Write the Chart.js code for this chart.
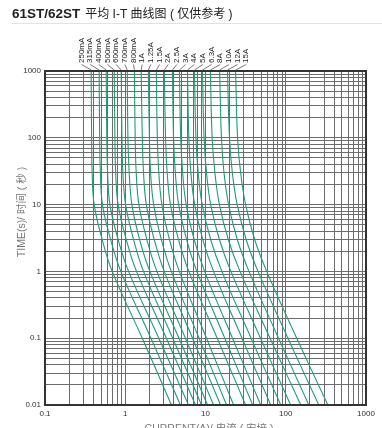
<!DOCTYPE html>
<html><head><meta charset="utf-8">
<script src="https://cdn.jsdelivr.net/npm/chart.js@4/dist/chart.umd.min.js"></script>
<style>html,body{margin:0;padding:0;background:#fff;width:382px;height:428px;overflow:hidden}canvas{display:block}</style>
</head><body>
<canvas id="c" width="382" height="428"></canvas>
<script>
// ---- data ----
const times = [1000, 100, 30, 10, 3, 1, 0.1, 0.01];           // seconds
const ratings = ['250mA','315mA','400mA','500mA','600mA','700mA','800mA','1A','1.25A','1.5A',
                 '2A','2.5A','3A','4A','5A','6.3A','8A','10A','12A','15A'];
// current (A) at each time above
const i250mA = [0.376, 0.381, 0.387, 0.410, 0.516, 0.688, 1.63, 3.76];
const i315mA = [0.473, 0.480, 0.490, 0.520, 0.657, 0.881, 2.09, 4.87];
const i400mA = [0.579, 0.589, 0.603, 0.644, 0.815, 1.10, 2.62, 6.13];
const i500mA = [0.729, 0.743, 0.760, 0.815, 1.03, 1.38, 3.25, 7.50];
const i600mA = [0.891, 0.910, 0.935, 1.01, 1.27, 1.69, 3.91, 8.91];
const i700mA = [1.06, 1.08, 1.12, 1.21, 1.51, 2.03, 4.67, 10.6];
const i800mA = [1.30, 1.33, 1.37, 1.48, 1.86, 2.48, 5.62, 12.6];
const i1A    = [1.58, 1.63, 1.69, 1.83, 2.30, 3.06, 6.90, 15.4];
const i1_25A = [1.94, 2.00, 2.07, 2.26, 2.82, 3.75, 8.32, 18.3];
const i1_5A  = [2.44, 2.51, 2.62, 2.86, 3.56, 4.72, 10.3, 22.4];
const i2A    = [3.07, 3.18, 3.33, 3.66, 4.61, 6.20, 14.0, 31.6];
const i2_5A  = [3.87, 4.00, 4.21, 4.63, 5.82, 7.81, 17.4, 38.7];
const i3A    = [4.73, 4.91, 5.19, 5.74, 7.23, 9.75, 21.7, 48.7];
const i4A    = [5.96, 6.20, 6.57, 7.33, 9.25, 12.6, 28.5, 64.9];
const i5A    = [7.29, 7.60, 8.11, 9.10, 11.6, 16.0, 37.0, 86.6];
const i6_3A  = [9.17, 9.60, 10.3, 11.6, 14.9, 20.7, 48.5, 115];
const i8A    = [11.5, 12.1, 13.1, 14.9, 19.2, 26.9, 63.7, 154];
const i10A   = [15.0, 15.8, 17.0, 19.4, 24.9, 34.8, 81.3, 194];
const i12A   = [18.8, 19.9, 21.6, 24.8, 32.1, 45.1, 106.5, 258];
const i15A   = [23.7, 25.1, 27.4, 31.6, 41.0, 57.9, 137, 335];
const seriesCurrents = [i250mA,i315mA,i400mA,i500mA,i600mA,i700mA,i800mA,i1A,i1_25A,i1_5A,
                        i2A,i2_5A,i3A,i4A,i5A,i6_3A,i8A,i10A,i12A,i15A];
const xTickLabels = ['0.1','1','10','100','1000'];
const yTickLabels = ['0.01','0.1','1','10','100','1000'];
const titleBold = '61ST/62ST';
const titleRest = '平均 I-T 曲线图 ( 仅供参考 )';
const xTitle = 'CURRENT(A)/ 电流 ( 安培 )';
const yTitle = 'TIME(s)/ 时间 ( 秒 )';

// ---- chart ----
const LAT = '"Liberation Sans", Arial, sans-serif';
const CJK = '"Liberation Sans", "Noto Sans CJK SC", sans-serif';
function logTicks(min, max) {
  const t = [];
  for (let e = Math.round(Math.log10(min)); e < Math.round(Math.log10(max)); e++)
    for (let m = 1; m < 10; m++) t.push({ value: +(m * Math.pow(10, e)).toPrecision(3) });
  t.push({ value: max });
  return t;
}
function decadeLabel(v, labels, minExp) {
  const l = Math.log10(v), r = Math.round(l);
  return Math.abs(l - r) < 1e-6 ? labels[r - minExp] : '';
}
const datasets = seriesCurrents.map((arr, i) => ({
  label: ratings[i],
  data: arr.map((c, k) => ({ x: c, y: times[k] })),
  showLine: true, borderColor: '#1f9d70', borderWidth: 1.1,
  pointRadius: 0, tension: 0.4, fill: false
}));

const deco = {
  id: 'deco',
  beforeDraw(chart) {
    const ctx = chart.ctx;
    ctx.save();
    ctx.fillStyle = '#fff'; ctx.fillRect(0, 0, chart.width, chart.height);
    ctx.fillStyle = '#222'; ctx.textBaseline = 'alphabetic'; ctx.textAlign = 'left';
    ctx.font = 'bold 13.5px ' + LAT;
    ctx.fillText(titleBold, 12, 17.5);
    const w = ctx.measureText(titleBold).width;
    ctx.font = '12px ' + CJK;
    ctx.fillText(titleRest, 12 + w + 5, 17.5);
    ctx.fillStyle = '#e2e2e2'; ctx.fillRect(12, 23, 370, 1);
    ctx.restore();
  },
  afterDatasetsDraw(chart) {
    const ctx = chart.ctx, a = chart.chartArea, xs = chart.scales.x;
    ctx.save();
    ctx.strokeStyle = '#333'; ctx.lineWidth = 2;
    ctx.strokeRect(a.left, a.top, a.right - a.left, a.bottom - a.top);
    // top labels with leaders
    ctx.font = '8px ' + LAT; ctx.fillStyle = '#222'; ctx.strokeStyle = '#555'; ctx.lineWidth = 0.8;
    ratings.forEach((r, i) => {
      const lx = 81.5 + i * 8.67;
      const tx = xs.getPixelForValue(seriesCurrents[i][0]);
      ctx.beginPath(); ctx.moveTo(lx, 64.5); ctx.lineTo(tx, a.top - 1); ctx.stroke();
      ctx.save(); ctx.translate(lx, 63); ctx.rotate(-Math.PI / 2);
      ctx.textAlign = 'left'; ctx.textBaseline = 'middle'; ctx.fillText(r, 0, 0);
      ctx.restore();
    });
    // axis titles
    ctx.fillStyle = '#7a7a7a'; ctx.font = '10.5px ' + CJK;
    ctx.textAlign = 'center'; ctx.textBaseline = 'middle';
    ctx.save(); ctx.translate(22, 212); ctx.rotate(-Math.PI / 2); ctx.fillText(yTitle, 0, 0); ctx.restore();
    ctx.textBaseline = 'alphabetic';
    ctx.fillText(xTitle, 209, 432);
    ctx.restore();
  }
};

new Chart(document.getElementById('c'), {
  type: 'scatter',
  data: { datasets },
  options: {
    responsive: false, animation: false, devicePixelRatio: 1,
    layout: { padding: { top: 71, right: 16, left: 0, bottom: 0 } },
    plugins: { legend: { display: false }, tooltip: { enabled: false } },
    scales: {
      x: {
        type: 'logarithmic', min: 0.1, max: 1000,
        afterBuildTicks: s => { s.ticks = logTicks(0.1, 1000); },
        afterFit: s => { s.height = 23; },
        grid: { color: '#6c6c6c', lineWidth: 1, drawTicks: false },
        border: { display: false },
        ticks: { autoSkip: false, maxRotation: 0, padding: 4, color: '#333',
                 font: { family: LAT, size: 8 },
                 callback: v => decadeLabel(v, xTickLabels, -1) }
      },
      y: {
        type: 'logarithmic', min: 0.01, max: 1000,
        afterBuildTicks: s => { s.ticks = logTicks(0.01, 1000); },
        afterFit: s => { s.width = 45; },
        grid: { color: '#6c6c6c', lineWidth: 1, drawTicks: false },
        border: { display: false },
        ticks: { autoSkip: false, padding: 4, color: '#333',
                 font: { family: LAT, size: 8 },
                 callback: v => decadeLabel(v, yTickLabels, -2) }
      }
    }
  },
  plugins: [deco]
});
</script>
</body></html>
